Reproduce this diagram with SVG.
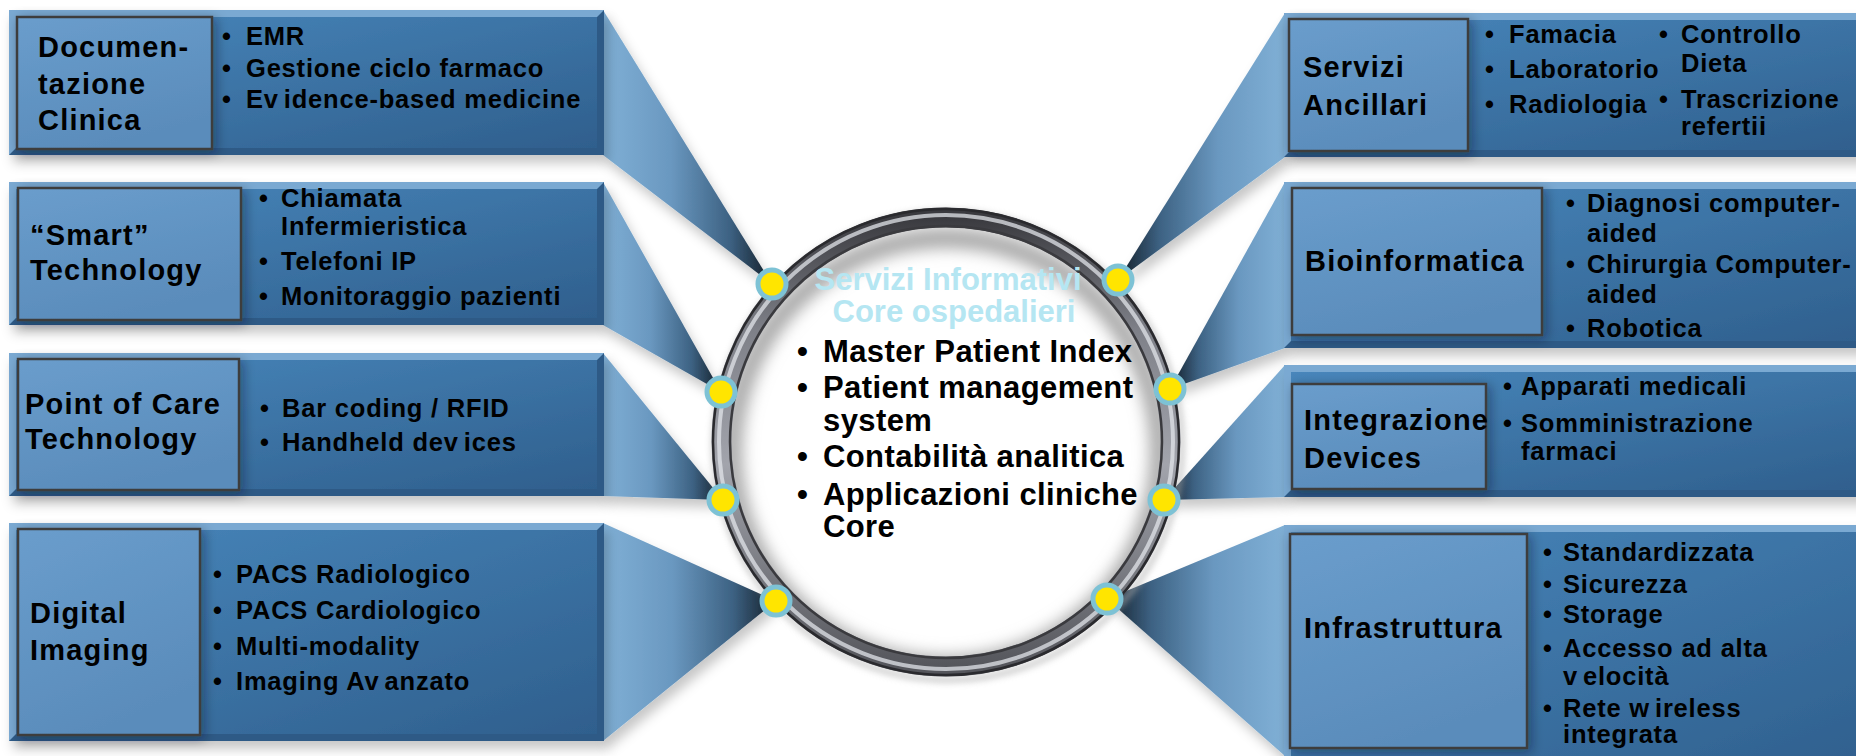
<svg xmlns="http://www.w3.org/2000/svg" width="1856" height="756" viewBox="0 0 1856 756">
<defs>
<style>
.dk{fill:#2d5a86}
.lt{fill:#7aa9d2}
.face{fill:url(#faceGrad)}
.inner{fill:url(#innerGrad);stroke:#3e3e3e;stroke-width:2.5}
.title{font-family:"Liberation Sans",Arial,sans-serif;font-weight:bold;font-size:29px;letter-spacing:1.2px;fill:#000}
.item{font-family:"Liberation Sans",Arial,sans-serif;font-weight:bold;font-size:25.5px;letter-spacing:0.8px;fill:#000}
.ctitle{font-family:"Liberation Sans",Arial,sans-serif;font-weight:bold;font-size:31px;fill:#b5e6f2;text-anchor:middle}
.citem{font-family:"Liberation Sans",Arial,sans-serif;font-weight:bold;font-size:31px;letter-spacing:0.4px;fill:#000}
.wl{fill:url(#wedgeL)}
.wr{fill:url(#wedgeR)}
.dot{fill:#ffe500;stroke:#7dc2d5;stroke-width:5}
</style>
<linearGradient id="faceGrad" x1="0" y1="0" x2="1" y2="1">
<stop offset="0" stop-color="#4886bb"/>
<stop offset="1" stop-color="#2f5f8d"/>
</linearGradient>
<linearGradient id="innerGrad" x1="0" y1="0" x2="0.4" y2="1">
<stop offset="0" stop-color="#6a9dcc"/>
<stop offset="1" stop-color="#5a8cbb"/>
</linearGradient>
<linearGradient id="wedgeL" x1="0" y1="0" x2="1" y2="0">
<stop offset="0" stop-color="#80b0d6"/>
<stop offset="0.4" stop-color="#6a98c0"/>
<stop offset="0.75" stop-color="#3d6283"/>
<stop offset="1" stop-color="#131d27"/>
</linearGradient>
<linearGradient id="wedgeR" x1="1" y1="0" x2="0" y2="0">
<stop offset="0" stop-color="#80b0d6"/>
<stop offset="0.4" stop-color="#6a98c0"/>
<stop offset="0.75" stop-color="#3d6283"/>
<stop offset="1" stop-color="#131d27"/>
</linearGradient>
<linearGradient id="ringGrad" x1="0" y1="0" x2="0" y2="1">
<stop offset="0" stop-color="#3a3a3f"/>
<stop offset="0.25" stop-color="#7e8088"/>
<stop offset="0.55" stop-color="#a2a4ac"/>
<stop offset="1" stop-color="#55565c"/>
</linearGradient>
<filter id="shadow" x="-10%" y="-10%" width="125%" height="135%">
<feDropShadow dx="4" dy="8" stdDeviation="6" flood-color="#000" flood-opacity="0.22"/>
</filter>
<filter id="ishadow" x="-20%" y="-20%" width="150%" height="150%">
<feDropShadow dx="3" dy="3" stdDeviation="6" flood-color="#0a1a2a" flood-opacity="0.4"/>
</filter>
<filter id="blur8" x="-20%" y="-20%" width="140%" height="140%">
<feGaussianBlur stdDeviation="8"/>
</filter>
<filter id="blur3" x="-10%" y="-10%" width="120%" height="120%">
<feGaussianBlur stdDeviation="3"/>
</filter>
<clipPath id="innerClip"><circle cx="946" cy="442" r="215"/></clipPath>
</defs>
<rect width="1856" height="756" fill="#ffffff"/>

<g id="connectors" filter="url(#shadow)">
<polygon class="wl" points="603,10 603,155 772,284"/>
<polygon class="wl" points="603,182 603,325 721,392"/>
<polygon class="wl" points="603,353 603,496 723,500"/>
<polygon class="wl" points="603,523 603,741 776,601"/>
<polygon class="wr" points="1285,13 1285,157 1118,280"/>
<polygon class="wr" points="1285,182 1285,348 1170,389"/>
<polygon class="wr" points="1285,365 1285,497 1164,500"/>
<polygon class="wr" points="1285,525 1285,756 1107,599"/>
</g>

<g id="node-documentazione">
<g filter="url(#shadow)">
<rect class="dk" x="9" y="10" width="595" height="145"/>
<polygon class="lt" points="9,10 604,10 597,17 16,17 16,148 9,155"/>
<rect class="face" x="16" y="17" width="581" height="131"/>
</g>
<rect class="inner" x="17" y="17" width="195" height="132" filter="url(#ishadow)"/>
<text class="title" x="38" y="57">Documen-</text>
<text class="title" x="38" y="94">tazione</text>
<text class="title" x="38" y="130">Clinica</text>
<text class="item" x="222" y="45">•</text><text class="item" x="246" y="45">EMR</text>
<text class="item" x="222" y="77">•</text><text class="item" x="246" y="77">Gestione ciclo farmaco</text>
<text class="item" x="222" y="108">•</text><text class="item" x="246" y="108">Ev<tspan dx="5">idence-based medicine</tspan></text>
</g>

<g id="node-smart">
<g filter="url(#shadow)">
<rect class="dk" x="9" y="182" width="595" height="143"/>
<polygon class="lt" points="9,182 604,182 597,189 16,189 16,318 9,325"/>
<rect class="face" x="16" y="189" width="581" height="129"/>
</g>
<rect class="inner" x="18" y="188" width="223" height="132" filter="url(#ishadow)"/>
<text class="title" x="30" y="245">“Smart”</text>
<text class="title" x="30" y="280">Technology</text>
<text class="item" x="259" y="207">•</text><text class="item" x="281" y="207">Chiamata</text>
<text class="item" x="281" y="235">Infermieristica</text>
<text class="item" x="259" y="270">•</text><text class="item" x="281" y="270">Telefoni IP</text>
<text class="item" x="259" y="305">•</text><text class="item" x="281" y="305">Monitoraggio pazienti</text>
</g>

<g id="node-pointofcare">
<g filter="url(#shadow)">
<rect class="dk" x="9" y="353" width="595" height="143"/>
<polygon class="lt" points="9,353 604,353 597,360 16,360 16,489 9,496"/>
<rect class="face" x="16" y="360" width="581" height="129"/>
</g>
<rect class="inner" x="18" y="359" width="221" height="131" filter="url(#ishadow)"/>
<text class="title" x="25" y="414">Point of Care</text>
<text class="title" x="25" y="449">Technology</text>
<text class="item" x="260" y="417">•</text><text class="item" x="282" y="417">Bar coding / RFID</text>
<text class="item" x="260" y="451">•</text><text class="item" x="282" y="451">Handheld dev<tspan dx="5">ices</tspan></text>
</g>

<g id="node-digitalimaging">
<g filter="url(#shadow)">
<rect class="dk" x="9" y="523" width="595" height="218"/>
<polygon class="lt" points="9,523 604,523 597,530 16,530 16,734 9,741"/>
<rect class="face" x="16" y="530" width="581" height="204"/>
</g>
<rect class="inner" x="18" y="529" width="182" height="206" filter="url(#ishadow)"/>
<text class="title" x="30" y="623">Digital</text>
<text class="title" x="30" y="660">Imaging</text>
<text class="item" x="213" y="583">•</text><text class="item" x="236" y="583">PACS Radiologico</text>
<text class="item" x="213" y="619">•</text><text class="item" x="236" y="619">PACS Cardiologico</text>
<text class="item" x="213" y="655">•</text><text class="item" x="236" y="655">Multi-modality</text>
<text class="item" x="213" y="690">•</text><text class="item" x="236" y="690">Imaging Av<tspan dx="5">anzato</tspan></text>
</g>

<g id="node-ancillari">
<g filter="url(#shadow)">
<rect class="dk" x="1284" y="13" width="590" height="144"/>
<polygon class="lt" points="1284,13 1874,13 1874,20 1291,20 1291,150 1284,157"/>
<rect class="face" x="1291" y="20" width="583" height="130"/>
</g>
<rect class="inner" x="1289" y="19" width="179" height="132" filter="url(#ishadow)"/>
<text class="title" x="1303" y="77">Servizi</text>
<text class="title" x="1303" y="115">Ancillari</text>
<text class="item" x="1485" y="43">•</text><text class="item" x="1509" y="43">Famacia</text>
<text class="item" x="1485" y="78">•</text><text class="item" x="1509" y="78">Laboratorio</text>
<text class="item" x="1485" y="113">•</text><text class="item" x="1509" y="113">Radiologia</text>
<text class="item" x="1659" y="43">•</text><text class="item" x="1681" y="43">Controllo</text>
<text class="item" x="1681" y="72">Dieta</text>
<text class="item" x="1659" y="108">•</text><text class="item" x="1681" y="108">Trascrizione</text>
<text class="item" x="1681" y="135">refertii</text>
</g>

<g id="node-bioinformatica">
<g filter="url(#shadow)">
<rect class="dk" x="1284" y="182" width="590" height="166"/>
<polygon class="lt" points="1284,182 1874,182 1874,189 1291,189 1291,341 1284,348"/>
<rect class="face" x="1291" y="189" width="583" height="152"/>
</g>
<rect class="inner" x="1292" y="188" width="250" height="147" filter="url(#ishadow)"/>
<text class="title" x="1305" y="271">Bioinformatica</text>
<text class="item" x="1566" y="212">•</text><text class="item" x="1587" y="212">Diagnosi computer-</text>
<text class="item" x="1587" y="242">aided</text>
<text class="item" x="1566" y="273">•</text><text class="item" x="1587" y="273">Chirurgia Computer-</text>
<text class="item" x="1587" y="303">aided</text>
<text class="item" x="1566" y="337">•</text><text class="item" x="1587" y="337">Robotica</text>
</g>

<g id="node-integrazione">
<g filter="url(#shadow)">
<rect class="dk" x="1284" y="365" width="590" height="132"/>
<polygon class="lt" points="1284,365 1874,365 1874,372 1291,372 1291,490 1284,497"/>
<rect class="face" x="1291" y="372" width="583" height="118"/>
</g>
<rect class="inner" x="1292" y="384" width="194" height="105" filter="url(#ishadow)"/>
<text class="title" x="1304" y="430">Integrazione</text>
<text class="title" x="1304" y="468">Devices</text>
<text class="item" x="1503" y="395">•</text><text class="item" x="1521" y="395">Apparati medicali</text>
<text class="item" x="1503" y="432">•</text><text class="item" x="1521" y="432">Somministrazione</text>
<text class="item" x="1521" y="460">farmaci</text>
</g>

<g id="node-infrastruttura">
<g filter="url(#shadow)">
<rect class="dk" x="1284" y="525" width="590" height="245"/>
<polygon class="lt" points="1284,525 1874,525 1874,532 1291,532 1291,763 1284,770"/>
<rect class="face" x="1291" y="532" width="583" height="238"/>
</g>
<rect class="inner" x="1290" y="534" width="237" height="214" filter="url(#ishadow)"/>
<text class="title" x="1304" y="638">Infrastruttura</text>
<text class="item" x="1543" y="561">•</text><text class="item" x="1563" y="561">Standardizzata</text>
<text class="item" x="1543" y="593">•</text><text class="item" x="1563" y="593">Sicurezza</text>
<text class="item" x="1543" y="623">•</text><text class="item" x="1563" y="623">Storage</text>
<text class="item" x="1543" y="657">•</text><text class="item" x="1563" y="657">Accesso ad alta</text>
<text class="item" x="1563" y="685">v<tspan dx="5">elocità</tspan></text>
<text class="item" x="1543" y="717">•</text><text class="item" x="1563" y="717">Rete w<tspan dx="5">ireless</tspan></text>
<text class="item" x="1563" y="743">integrata</text>
</g>

<g id="node-core">
<circle cx="946" cy="442" r="215" fill="#ffffff"/>
<g clip-path="url(#innerClip)">
<circle cx="946" cy="452" r="214" fill="none" stroke="#a8a8a8" stroke-width="20" filter="url(#blur8)"/>
</g>
<circle cx="948" cy="446" r="234" fill="none" stroke="#b0b0b0" stroke-width="6" filter="url(#blur3)" opacity="0.6"/>
<circle cx="946" cy="442" r="224.5" fill="none" stroke="url(#ringGrad)" stroke-width="20"/>
<circle cx="946" cy="442" r="233" fill="none" stroke="#2a2a2e" stroke-width="2.5"/>
<circle cx="946" cy="442" r="227" fill="none" stroke="#e2e4ea" stroke-width="4" opacity="0.75"/>
<circle cx="946" cy="442" r="216" fill="none" stroke="#3a3a3e" stroke-width="2.5"/>
<text class="ctitle" x="948" y="290">Servizi Informativi</text>
<text class="ctitle" x="954" y="322">Core ospedalieri</text>
<text class="citem" x="797" y="362">•</text><text class="citem" x="823" y="362">Master Patient Index</text>
<text class="citem" x="797" y="398">•</text><text class="citem" x="823" y="398">Patient management</text>
<text class="citem" x="823" y="431">system</text>
<text class="citem" x="797" y="467">•</text><text class="citem" x="823" y="467">Contabilità analitica</text>
<text class="citem" x="797" y="505">•</text><text class="citem" x="823" y="505">Applicazioni cliniche</text>
<text class="citem" x="823" y="537">Core</text>
</g>

<g id="anchors">
<circle class="dot" cx="772" cy="284" r="14"/>
<circle class="dot" cx="721" cy="392" r="14"/>
<circle class="dot" cx="723" cy="500" r="14"/>
<circle class="dot" cx="776" cy="601" r="14"/>
<circle class="dot" cx="1118" cy="280" r="14"/>
<circle class="dot" cx="1170" cy="389" r="14"/>
<circle class="dot" cx="1164" cy="500" r="14"/>
<circle class="dot" cx="1107" cy="599" r="14"/>
</g>
</svg>
